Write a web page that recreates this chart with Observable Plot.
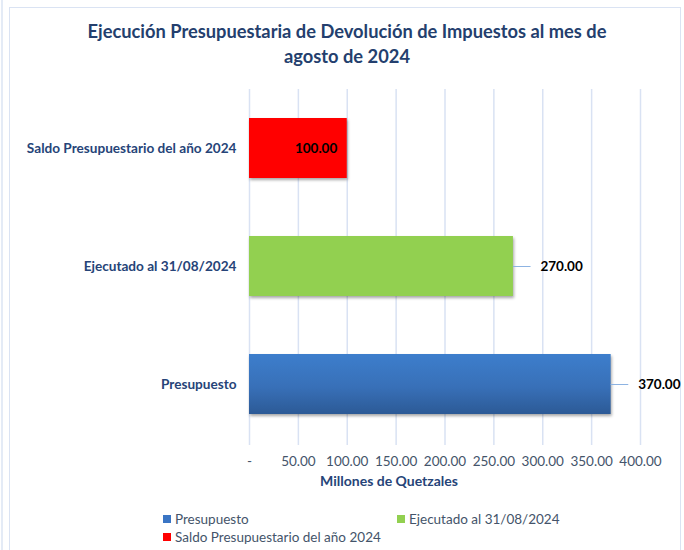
<!DOCTYPE html>
<html>
<head>
<meta charset="utf-8">
<script src="https://cdn.jsdelivr.net/npm/d3@7"></script>
<script src="https://cdn.jsdelivr.net/npm/@observablehq/plot@0.6"></script>
<style>
  html, body { margin: 0; padding: 0; background: #fff; }
  #wrap { position: relative; width: 684px; height: 550px; overflow: hidden; font-family: Lato, "Open Sans", sans-serif; }
  #frame { position: absolute; left: 9px; top: 7px; width: 672px; height: 600px; border: 1.5px solid #DAE3F3; box-sizing: border-box; }
  #edge { position: absolute; left: 1px; top: 0; width: 2px; height: 550px; background: #E4EBF6; }
  #title { position: absolute; left: 10px; width: 674px; top: 19px; text-align: center; font-weight: bold; font-size: 18.3px; line-height: 25px; color: #243F6E; }
  #chart { position: absolute; left: 0; top: 0; }
  #xlabel { position: absolute; left: 289px; width: 200px; top: 472px; text-align: center; font-weight: bold; font-size: 14px; color: #264478; }
  .leg { position: absolute; font-size: 13.5px; color: #44546A; display: flex; align-items: center; white-space: nowrap; }
  .leg span.sw { display: inline-block; width: 8px; height: 8px; margin-right: 4px; }
  g[aria-label="bar"] rect { filter: drop-shadow(1.5px 2px 1.5px rgba(0,0,0,0.35)); }
  g[aria-label="y-axis tick label"] text { font-weight: bold; }
</style>
</head>
<body>
<div id="wrap">
  <div id="edge"></div>
  <div id="frame"></div>
  <div id="title">Ejecución Presupuestaria de Devolución de Impuestos al mes de<br>agosto de 2024</div>
  <div id="chart"></div>
  <div id="xlabel"></div>
  <div id="legend"></div>
</div>
<script>
// ---- data ----
const categories = ["Saldo Presupuestario del año 2024", "Ejecutado al 31/08/2024", "Presupuesto"];
const values = [100, 270, 370];
const barColors = ["#FF0000", "#92D050", "url(#gradPres)"];
const legendNames = ["Presupuesto", "Ejecutado al 31/08/2024", "Saldo Presupuestario del año 2024"];
const legendColors = ["#3A75C4", "#92D050", "#FF0000"];
const xTicks = [0, 50, 100, 150, 200, 250, 300, 350, 400];
const xAxisTitle = "Millones de Quetzales";

const data = categories.map((c, i) => ({category: c, value: values[i]}));
const fmt = v => v === 0 ? "-" : v.toFixed(2);
const insideCat = categories[0];

const defs = () => {
  const d = d3.create("svg:defs");
  const g = d.append("linearGradient").attr("id", "gradPres").attr("x1", 0).attr("y1", 0).attr("x2", 0).attr("y2", 1);
  g.append("stop").attr("offset", "0%").attr("stop-color", "#3D7ECC");
  g.append("stop").attr("offset", "55%").attr("stop-color", "#3870B8");
  g.append("stop").attr("offset", "100%").attr("stop-color", "#2C5A96");
  return d.node();
};

const chart = Plot.plot({
  width: 684,
  height: 550,
  marginTop: 89,
  marginBottom: 107,
  marginLeft: 249,
  marginRight: 44,
  style: {fontFamily: "Lato, 'Open Sans', sans-serif", background: "transparent"},
  x: {domain: [0, 400], label: null},
  y: {domain: categories, paddingInner: 0.49, paddingOuter: 0.245, label: null},
  color: {domain: categories, range: barColors},
  marks: [
    defs,
    Plot.ruleX(xTicks, {stroke: "#D9E2F3", strokeWidth: 1.5, insetBottom: -2}),
    Plot.axisX({ticks: xTicks, tickSize: 0, tickPadding: 13, tickFormat: fmt, fontSize: 13.5, color: "#44546A", label: null}),
    Plot.axisY({tickSize: 0, tickPadding: 13, fontSize: 13.6, color: "#264478", label: null}),
    Plot.barX(data, {x: "value", y: "category", fill: "category"}),
    Plot.ruleY(data.filter(d => d.category !== insideCat), {y: "category", x1: "value", x2: d => d.value + 18, stroke: "#8DB3E2", strokeWidth: 1}),
    Plot.text(data.filter(d => d.category === insideCat), {x: "value", y: "category", text: d => fmt(d.value), textAnchor: "end", dx: -10, fontSize: 13.5, fontWeight: "bold", fill: "#000"}),
    Plot.text(data.filter(d => d.category !== insideCat), {x: "value", y: "category", text: d => fmt(d.value), textAnchor: "start", dx: 27, fontSize: 13.5, fontWeight: "bold", fill: "#000"})
  ]
});
document.getElementById("chart").appendChild(chart);
document.getElementById("xlabel").textContent = xAxisTitle;

// legend
const legPos = [[163, 511], [397, 511], [163, 529]];
const leg = document.getElementById("legend");
legendNames.forEach((n, i) => {
  const el = document.createElement("div");
  el.className = "leg";
  el.style.left = legPos[i][0] + "px";
  el.style.top = legPos[i][1] + "px";
  el.innerHTML = `<span class="sw" style="background:${legendColors[i]}"></span>${n}`;
  leg.appendChild(el);
});
</script>
</body>
</html>
